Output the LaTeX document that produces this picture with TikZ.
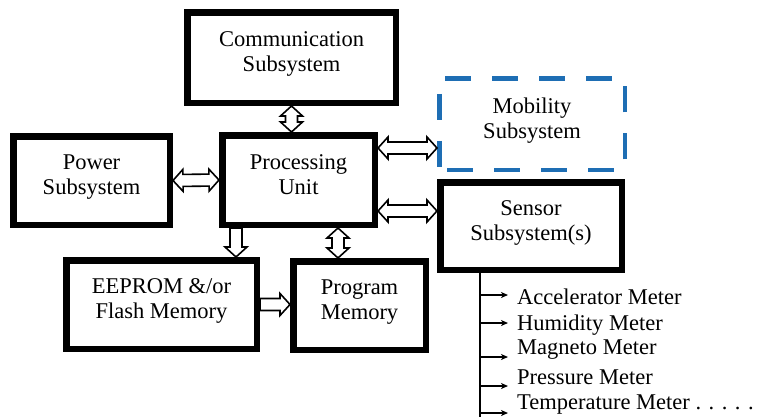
\documentclass[tikz,border=0pt]{standalone}
\usepackage{fontspec}
\setmainfont{Liberation Serif}
\usepackage{tikz}
\usetikzlibrary{arrows.meta,calc}
\tikzset{>={Stealth[length=7pt,width=6pt,inset=2pt]}}
\definecolor{mobblue}{RGB}{30,110,180}

\tikzset{
  txt/.style={font=\fontsize{22.5}{25}\selectfont},
  blk/.style={txt, draw, line width=6.5pt, fill=white, align=center, inner sep=0pt,
    execute at end node={\rule[-11pt]{0pt}{1pt}}},
  mobbox/.style={blk, draw=mobblue, line width=4.5pt, dash pattern=on 26pt off 21pt, dash phase=-8pt},
  meter/.style={txt, anchor=west, inner sep=0pt},
  trunkline/.style={line width=2pt},
  branch/.style={->, line width=1.5pt},
  %% hollow block arrows, drawn in a frame turned along the link
  hollowboth/.style={line width=1.6pt, fill=white, line join=miter, to path={
    let \p1=(\tikztostart), \p2=(\tikztotarget),
        \n1={veclen(\x2-\x1,\y2-\y1)}, \n2={atan2(\y2-\y1,\x2-\x1)} in
    [shift={(\p1)}, rotate=\n2]
    (0pt,0pt) -- (10pt,11pt) -- (10pt,6pt) -- ({\n1-10pt},6pt) -- ({\n1-10pt},11pt)
    -- ({\n1},0pt) -- ({\n1-10pt},-11pt) -- ({\n1-10pt},-6pt) -- (10pt,-6pt)
    -- (10pt,-11pt) -- cycle}},
  hollowone/.style={line width=1.6pt, fill=white, line join=miter, to path={
    let \p1=(\tikztostart), \p2=(\tikztotarget),
        \n1={veclen(\x2-\x1,\y2-\y1)}, \n2={atan2(\y2-\y1,\x2-\x1)} in
    [shift={(\p1)}, rotate=\n2]
    (0pt,6pt) -- ({\n1-10pt},6pt) -- ({\n1-10pt},11pt) -- ({\n1},0pt)
    -- ({\n1-10pt},-11pt) -- ({\n1-10pt},-6pt) -- (0pt,-6pt) -- cycle}}
}

\begin{document}
\begin{tikzpicture}[x=1pt,y=-1pt]
  \useasboundingbox (0,0) rectangle (761,416);

  %% blocks
  \node[blk, minimum width=208.5pt, minimum height=90.5pt] (comm) at (291.5,57.5) {Communication\\Subsystem};
  \node[blk, minimum width=156.5pt, minimum height=88.5pt] (power) at (91.5,180.5) {Power\\Subsystem};
  \node[blk, minimum width=152.5pt, minimum height=89.5pt] (proc) at (298.5,180) {Processing\\Unit};
  \node[mobbox, minimum width=185.5pt, minimum height=91.5pt] (mob) at (532,124) {Mobility\\Subsystem};
  \node[blk, minimum width=181.5pt, minimum height=87.5pt] (sensor) at (531,226) {Sensor\\Subsystem(s)};
  \node[blk, minimum width=190.5pt, minimum height=88.5pt] (eeprom) at (161.5,304.5) {EEPROM \&/or\\Flash Memory};
  \node[blk, minimum width=132.5pt, minimum height=88.5pt] (program) at (359.5,305.5) {Program\\Memory};

  %% links to the processing unit
  \coordinate (p-mob) at ([yshift=-16pt]proc.north east);
  \coordinate (p-sen) at ([yshift=17pt]proc.south east);
  \coordinate (p-ee) at ([xshift=17pt]proc.south west);
  \coordinate (p-pm) at ([xshift=-40pt]proc.south east);

  \draw[hollowboth] (comm.south) to (comm.south |- proc.north); % comm <-> proc
  \draw[hollowboth] (power.east) to (proc.west);                % power <-> proc
  \draw[hollowboth] (p-mob) to (p-mob -| mob.west);             % proc <-> mob
  \draw[hollowboth] (p-sen) to (p-sen -| sensor.west);          % proc <-> sensor
  \draw[hollowone] (p-ee) to (p-ee |- eeprom.north);            % proc -> eeprom
  \draw[hollowboth] (p-pm) to (p-pm |- program.north);          % proc <-> program
  \draw[hollowone] (eeprom.east) to (eeprom.east -| program.west); % eeprom -> program

  %% sensor list
  \coordinate (trunk) at ([xshift=43pt]sensor.south west);
  \draw[trunkline] (trunk) -- (trunk |- 0,420);
  \foreach \name/\label/\ty/\ay in {acc/Accelerator Meter/297/295,
      hum/Humidity Meter/325/323, mag/Magneto Meter/350/357,
      pre/Pressure Meter/377/386, tem/Temperature Meter . . . . ./405/413}{
    \node[meter] (\name) at (517,\ty) {\label};
    \coordinate (\name-in) at (508,\ay);
    \draw[branch] (trunk |- \name-in) -- (\name-in);
  }

\end{tikzpicture}
\end{document}
